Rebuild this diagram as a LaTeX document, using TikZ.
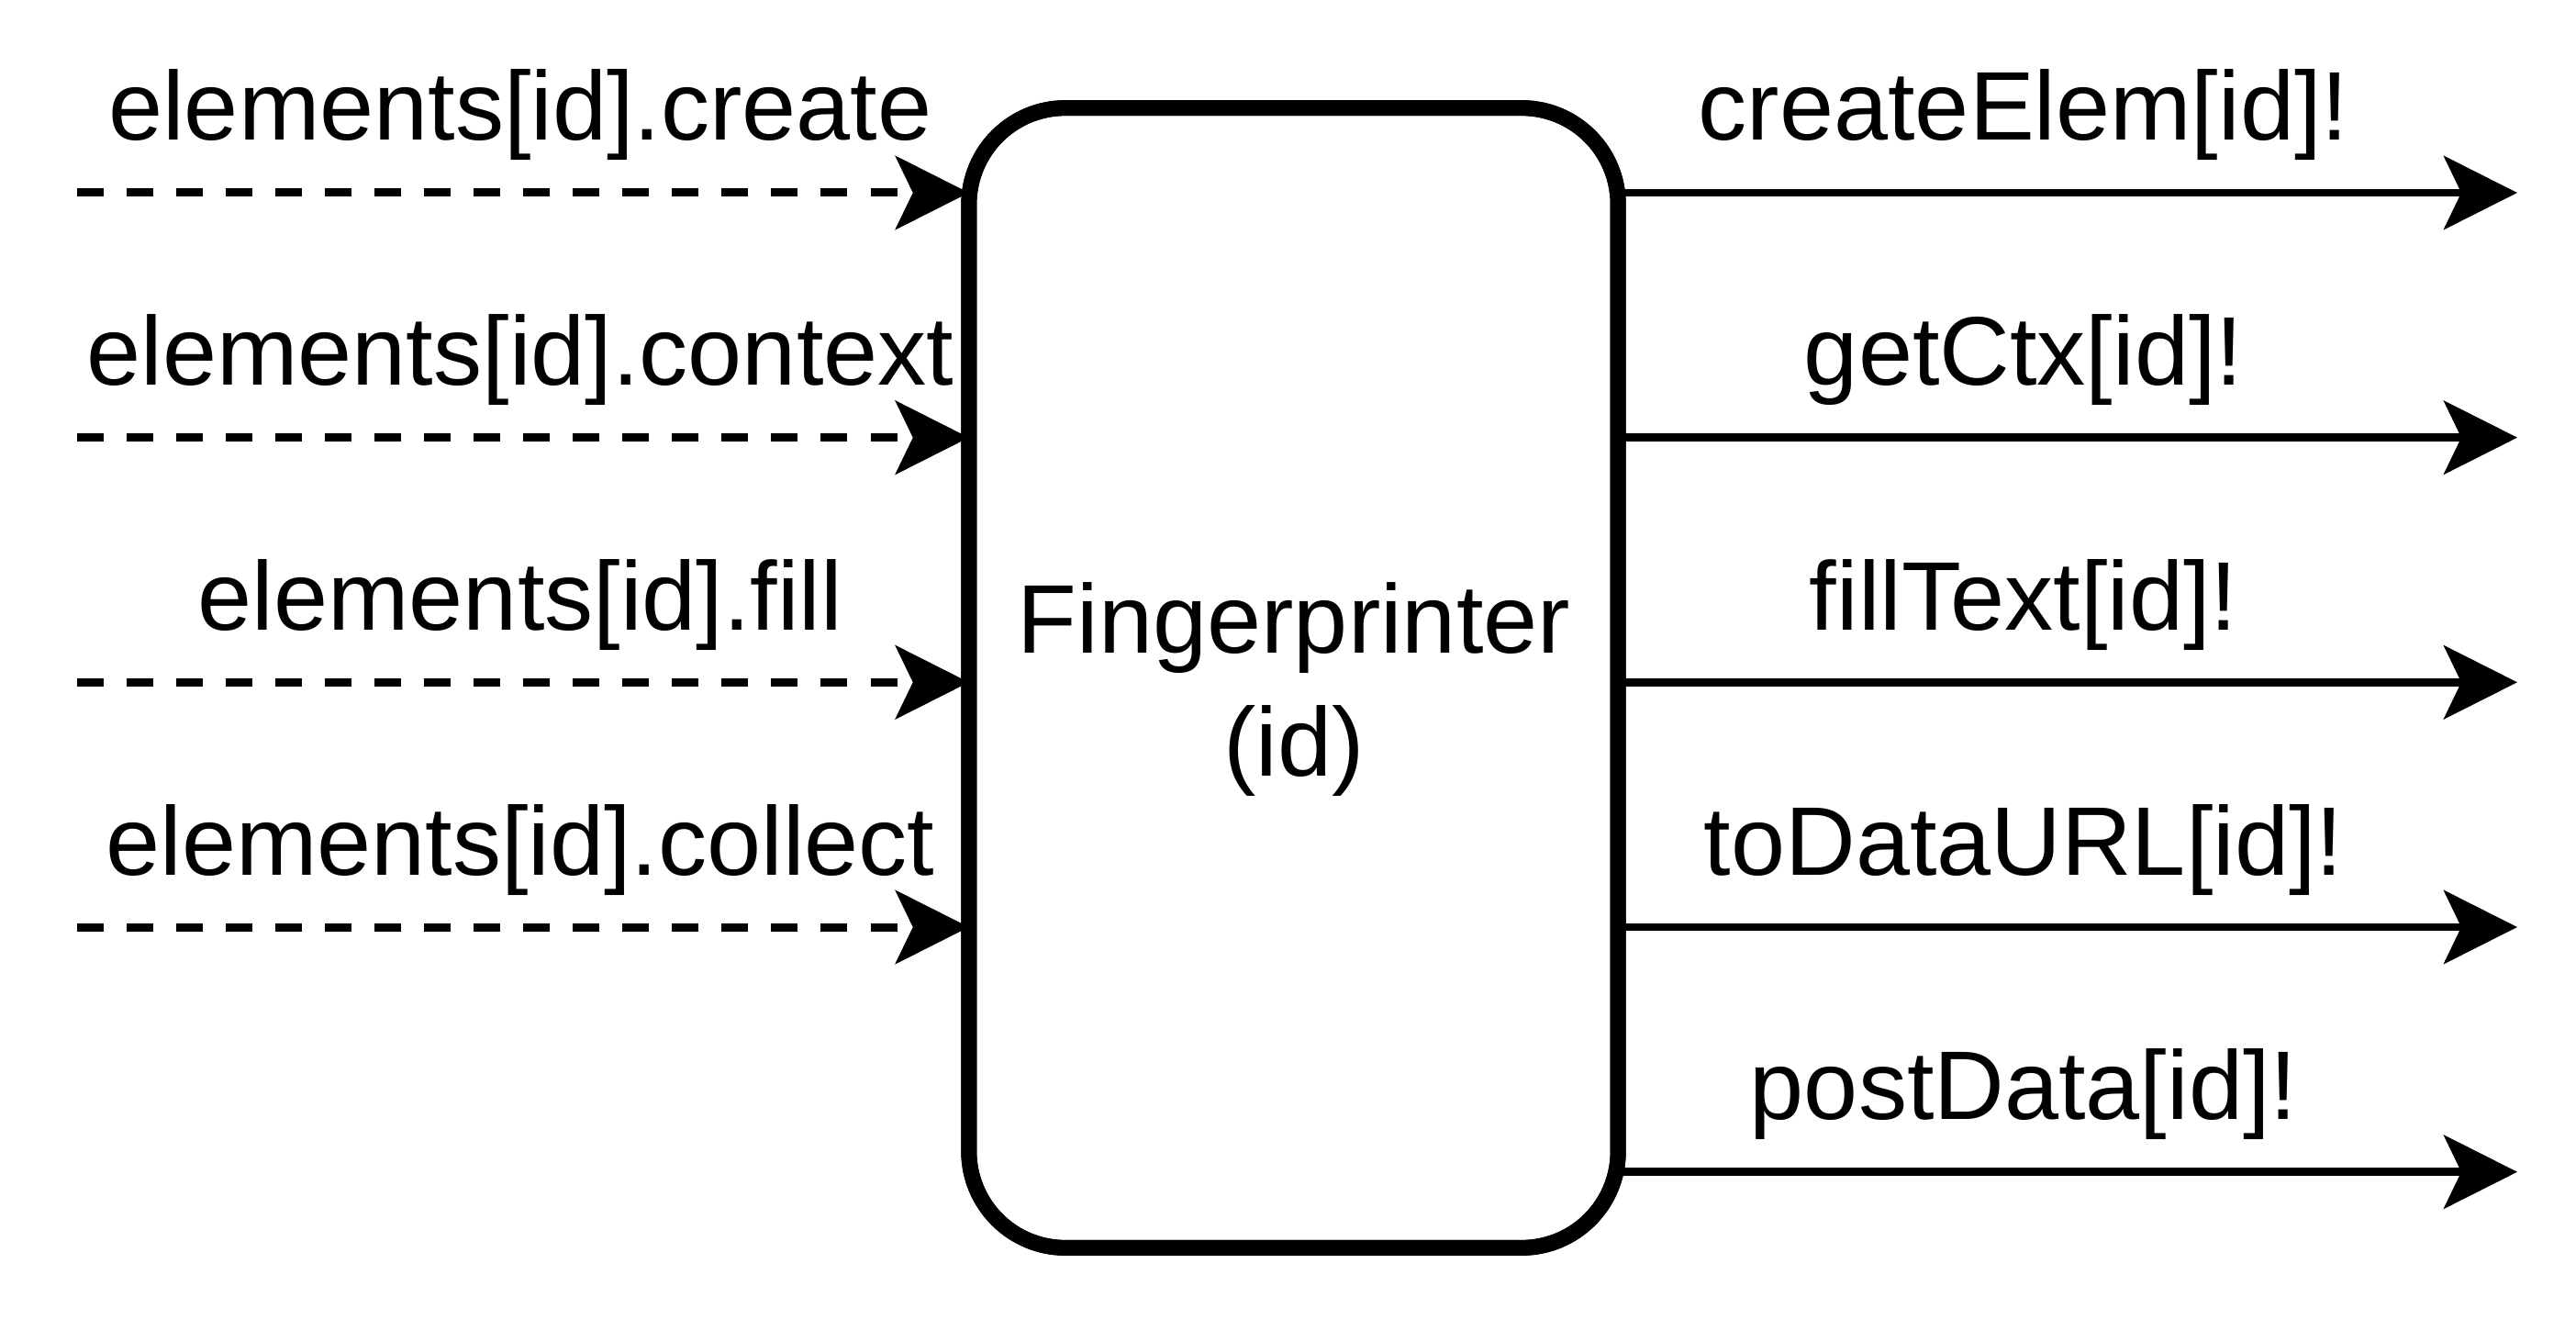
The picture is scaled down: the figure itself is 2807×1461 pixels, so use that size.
\documentclass[tikz,border=0pt]{standalone}
\usepackage{fontspec}
\setmainfont{Liberation Sans}
\usetikzlibrary{arrows.meta}
\begin{document}
\begin{tikzpicture}[x=0.01cm,y=-0.01cm,
  lbl/.style={font=\fontsize{30.2pt}{37.84pt}\selectfont, inner sep=0pt, outer sep=0pt, anchor=base},
  tip/.style={-{Stealth[length=0.8cm,width=0.8cm,inset=0.19cm]}},
  inarrow/.style={tip, line width=0.09cm, dash pattern=on 0.29cm off 0.25cm},
  outarrow/.style={tip, line width=0.085cm},
  fpbox/.style={draw, line width=0.17cm, rounded corners=1.05cm, fill=white,
    minimum width=7.07cm, minimum height=12.41cm, inner sep=0pt, outer sep=0pt}]
\useasboundingbox (0,0) rectangle (2807,1461);
% incoming
\coordinate (l1) at (84,210);
\coordinate (l2) at (84,476.7);
\coordinate (l3) at (84,743.3);
\coordinate (l4) at (84,1010);
% outgoing ends
\coordinate (r1) at (2743,210);
\coordinate (r2) at (2743,476.7);
\coordinate (r3) at (2743,743.3);
\coordinate (r4) at (2743,1010);
\coordinate (r5) at (2743,1276.7);
\node[fpbox] (fp) at (1409.5,738.5) {};
\draw[inarrow] (l1) -- (l1 -| fp.west);
\draw[inarrow] (l2) -- (l2 -| fp.west);
\draw[inarrow] (l3) -- (l3 -| fp.west);
\draw[inarrow] (l4) -- (l4 -| fp.west);
\draw[outarrow] (r1 -| fp.east) -- (r1);
\draw[outarrow] (r2 -| fp.east) -- (r2);
\draw[outarrow] (r3 -| fp.east) -- (r3);
\draw[outarrow] (r4 -| fp.east) -- (r4);
\draw[outarrow] (r5 -| fp.east) -- (r5);
\draw[line width=0.17cm, rounded corners=1.05cm] (fp.north west) rectangle (fp.south east);
\node[lbl, align=center] (fptext) at (1410,845) {Fingerprinter\\(id)};
% labels
\node[lbl] (t1) at (567,153) {elements[id].create};
\node[lbl] (t2) at (567,419.7) {elements[id].context};
\node[lbl] (t3) at (567,686.3) {elements[id].fill};
\node[lbl] (t4) at (567,953) {elements[id].collect};
\node[lbl] (o1) at (2205,153) {createElem[id]!};
\node[lbl] (o2) at (2205,419.7) {getCtx[id]!};
\node[lbl] (o3) at (2205,686.3) {fillText[id]!};
\node[lbl] (o4) at (2205,953) {toDataURL[id]!};
\node[lbl] (o5) at (2205,1219.7) {postData[id]!};
\end{tikzpicture}
\end{document}
